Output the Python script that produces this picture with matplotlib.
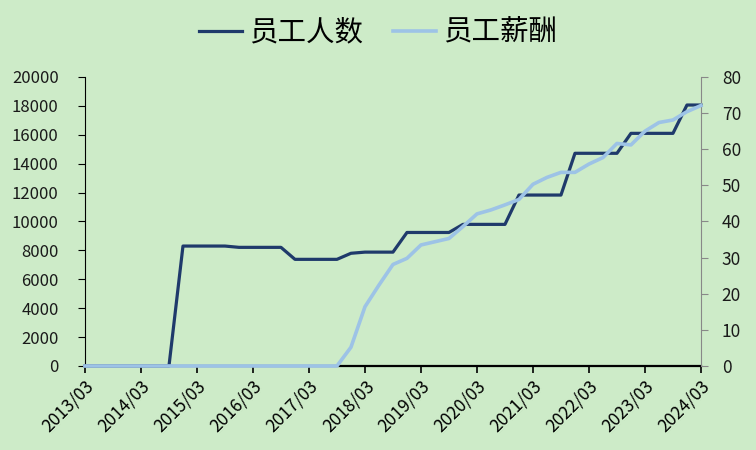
import matplotlib
matplotlib.use('Agg')
import matplotlib.pyplot as plt
from matplotlib.transforms import ScaledTranslation

plt.rcParams['font.family'] = ['Noto Sans CJK SC', 'DejaVu Sans']

# quarterly, 2013/03 .. 2024/03
quarters = [f'{y}/{m:02d}' for y in range(2013, 2025) for m in (3, 6, 9, 12)][:45]
year_ticks = [q for q in quarters if q.endswith('/03')]

staff_count = [0, 0, 0, 0, 0, 0, 0,
               8300, 8300, 8300, 8300,
               8210, 8210, 8210, 8210,
               7380, 7380, 7380, 7380,
               7800, 7880, 7880, 7880,
               9240, 9240, 9240, 9240,
               9800, 9800, 9800, 9800,
               11830, 11830, 11830, 11830,
               14720, 14720, 14720, 14720,
               16100, 16100, 16100, 16100,
               18060, 18060]

staff_pay = [0, 0, 0, 0, 0, 0, 0, 0, 0, 0, 0, 0, 0, 0, 0, 0, 0, 0, 0,
             5.2, 16.4, 22.4, 28.1, 29.8, 33.5, 34.4, 35.3, 38.6, 42.1,
             43.2, 44.6, 46.1, 50.3, 52.2, 53.6, 53.6, 55.9, 57.7, 61.6,
             61.2, 65.0, 67.4, 68.1, 70.4, 72.1]

bg = '#cdebc8'
dark = '#1f3a6b'
light = '#9dc3e6'

fig = plt.figure(figsize=(7.56, 4.5), dpi=100, facecolor=bg)
ax = fig.add_axes([0.1124, 0.1867, 0.8148, 0.6422])
ax.set_facecolor(bg)
ax2 = ax.twinx()

x = list(range(len(quarters)))
l1, = ax.plot(x, staff_count, color=dark, lw=2.3, clip_on=False, zorder=3, label='员工人数')
l2, = ax2.plot(x, staff_pay, color=light, lw=2.6, clip_on=False, zorder=3, label='员工薪酬')

ax.set_xlim(0, len(quarters) - 1)
ax.set_ylim(0, 20000)
ax.set_yticks(range(0, 20001, 2000))
ax2.set_ylim(0, 80)
ax2.set_yticks(range(0, 81, 10))

ax.set_xticks([quarters.index(q) for q in year_ticks])
ax.set_xticklabels(year_ticks, rotation=45, ha='right', rotation_mode='anchor')
shift = ScaledTranslation(5 / 100, 0, fig.dpi_scale_trans)
for lab in ax.get_xticklabels():
    lab.set_transform(lab.get_transform() + shift)

for a in (ax, ax2):
    a.spines['top'].set_visible(False)
ax.spines['right'].set_visible(False)
ax2.spines['left'].set_visible(False)
ax2.spines['bottom'].set_visible(False)
ax.spines['left'].set_color('black')
ax.spines['bottom'].set_color('black')
ax.spines['bottom'].set_linewidth(1.6)
ax2.spines['right'].set_color('#888888')

ax.tick_params(axis='x', direction='out', length=5, width=1.2, colors='black', labelsize=12.5, pad=3)
ax.tick_params(axis='y', direction='out', length=5, colors='black', labelsize=12, pad=14, labelcolor='#1a1a1a')
ax2.tick_params(axis='y', direction='out', length=5, colors='#888888', labelsize=12.5, pad=10, labelcolor='#1a1a1a')

fig.legend(handles=[l1, l2], loc='center', bbox_to_anchor=(0.5, 0.927), ncol=2,
           frameon=False, fontsize=20.5, handlelength=1.5, handletextpad=0.25,
           columnspacing=1.05)

fig.savefig('out.png', dpi=100, facecolor=bg)
